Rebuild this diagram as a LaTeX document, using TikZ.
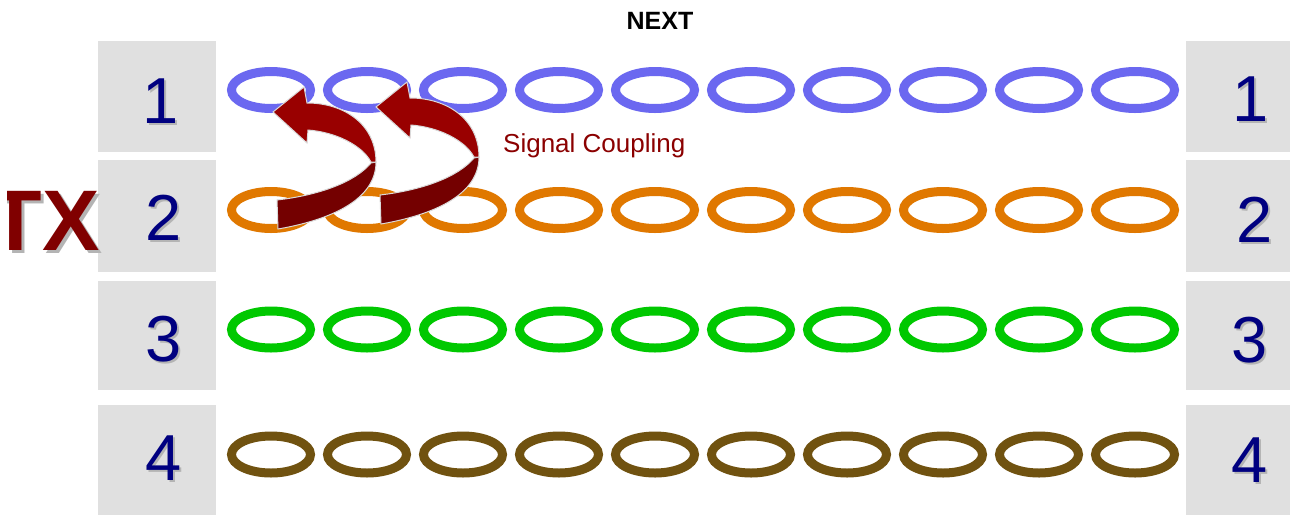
\documentclass[tikz,border=0pt]{standalone}
\usepackage{fontspec}
\setmainfont{Liberation Sans}
\definecolor{boxgray}{HTML}{E0E0E0}
\definecolor{numblue}{HTML}{000080}
\definecolor{shade}{HTML}{B4B4B4}
\definecolor{wblue}{RGB}{107,104,240}
\definecolor{worange}{RGB}{224,120,0}
\definecolor{wgreen}{RGB}{0,200,0}
\definecolor{wbrown}{RGB}{112,82,16}
\definecolor{txred}{HTML}{800000}
\definecolor{sigred}{HTML}{8B0000}
\definecolor{arrfront}{HTML}{990000}
\definecolor{arrback}{HTML}{740000}
\definecolor{arrline}{HTML}{DADADA}
\tikzset{
  numbox/.style={fill=boxgray, draw=none, anchor=north west, inner sep=0, outer sep=0},
  numtext/.style={inner sep=0, text=numblue, font=\fontsize{65}{78}\selectfont},
  numshadow/.style={inner sep=0, text=shade, font=\fontsize{65}{78}\selectfont},
  wireloop/.style={draw=#1, line width=9pt},
  coupling/.pic={
    \path[fill=arrback, draw=arrline, line width=1pt]
      (376,162) .. controls (376,200) and (330,220) .. (278,229)
      -- (277,200) .. controls (320,195) and (355,182) .. (371,163) -- cycle;
    \path[fill=arrfront, draw=arrline, line width=1pt]
      (273,112) -- (304,87) -- (307,103)
      .. controls (345,103) and (376,125) .. (376,162)
      -- (371,162) .. controls (362,145) and (335,132) .. (308,130)
      -- (307,143) -- cycle;
  }
}
\begin{document}
\begin{tikzpicture}[x=1pt,y=-1pt]
\useasboundingbox[fill=white] (0,0) rectangle (1290,515);

% boxes
\node[numbox, minimum width=118pt, minimum height=111pt] (L1) at (98,41) {};
\node[numbox, minimum width=118pt, minimum height=112pt] (L2) at (98,160) {};
\node[numbox, minimum width=118pt, minimum height=109pt] (L3) at (98,281) {};
\node[numbox, minimum width=118pt, minimum height=110pt] (L4) at (98,405) {};
\node[numbox, minimum width=104pt, minimum height=111pt] (R1) at (1186,41) {};
\node[numbox, minimum width=104pt, minimum height=112pt] (R2) at (1186,160) {};
\node[numbox, minimum width=104pt, minimum height=109pt] (R3) at (1186,281) {};
\node[numbox, minimum width=104pt, minimum height=110pt] (R4) at (1186,405) {};

% numbers
\node[numshadow] (sl1) at (162.5,103) {1};
\node[numtext]   (nl1) at (160.5,101) {1};
\node[numshadow] (sl2) at (166,220) {2};
\node[numtext]   (nl2) at (164,218) {2};
\node[numshadow] (sl3) at (166,341.5) {3};
\node[numtext]   (nl3) at (164,339.5) {3};
\node[numshadow] (sl4) at (165.5,460.5) {4};
\node[numtext]   (nl4) at (163.5,458.5) {4};
\node[numshadow] (sr1) at (1252.5,101.5) {1};
\node[numtext]   (nr1) at (1250.5,99.5) {1};
\node[numshadow] (sr2) at (1257,222) {2};
\node[numtext]   (nr2) at (1255,220) {2};
\node[numshadow] (sr3) at (1252,342) {3};
\node[numtext]   (nr3) at (1250,340) {3};
\node[numshadow] (sr4) at (1252,462) {4};
\node[numtext]   (nr4) at (1250,460) {4};

% wire loops
\foreach \k in {0,...,9} {
  \draw[wireloop=wblue]   ({271+96*\k},90)    ellipse [x radius=39.5pt, y radius=18.5pt];
  \draw[wireloop=worange] ({271+96*\k},210)   ellipse [x radius=39.5pt, y radius=18.5pt];
  \draw[wireloop=wgreen]  ({271+96*\k},329.5) ellipse [x radius=39.5pt, y radius=18.5pt];
  \draw[wireloop=wbrown]  ({271+96*\k},454.5) ellipse [x radius=39.5pt, y radius=18.5pt];
}

% coupling arrows
\pic at (0,0) {coupling};
\pic at (103,-5) {coupling};

% labels
\node[font=\bfseries\fontsize{25}{30}\selectfont, anchor=base, inner sep=0] (next) at (660,29) {NEXT};
\node[anchor=base west, inner sep=0, text=sigred, font=\fontsize{26}{31}\selectfont] (sig) at (503,152) {Signal Coupling};

% TX
\begin{scope}
\clip (7,0) rectangle (1290,515);
\node[anchor=base west, inner sep=0, text=shade, font=\bfseries\fontsize{86}{100}\selectfont] (txs) at (-7.7,253) {TX};
\node[anchor=base west, inner sep=0, text=txred, font=\bfseries\fontsize{86}{100}\selectfont] (tx) at (-10.7,250) {TX};
\end{scope}
\end{tikzpicture}
\end{document}
